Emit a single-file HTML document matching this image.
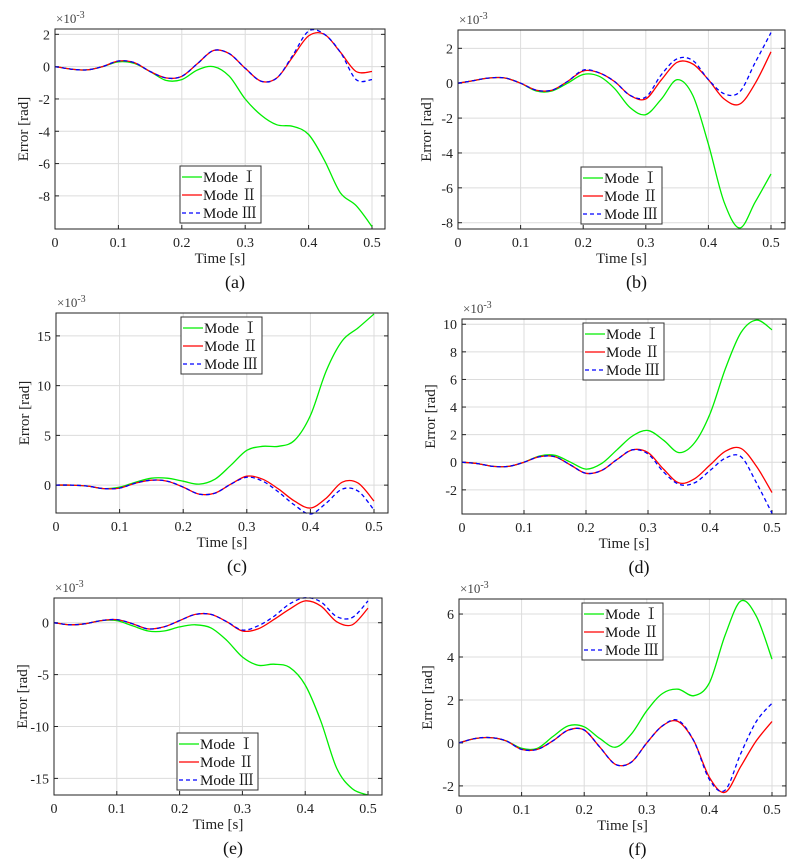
<!DOCTYPE html>
<html><head><meta charset="utf-8"><style>
body{margin:0;background:#fff;}
svg{display:block;}
svg text{font-family:"Liberation Serif","Noto Serif CJK SC",serif;}
</style></head><body>
<svg id="fig" width="806" height="865" viewBox="0 0 806 865" font-family="Liberation Serif, serif" xmlns="http://www.w3.org/2000/svg"></svg>
<script>
const times=[0,.025,.05,.075,.1,.125,.15,.175,.2,.225,.25,.275,.3,.325,.35,.375,.4,.425,.45,.475,.5];
const aI=[0,-.15,-.2,0,.3,.2,-.3,-.85,-.8,-.2,0,-.6,-2.0,-3.0,-3.6,-3.7,-4.2,-5.8,-7.8,-8.6,-9.9];
const aII=[0,-.15,-.2,0,.35,.25,-.3,-.7,-.6,.2,1.0,.8,-.1,-.9,-.7,.6,1.9,2.0,.9,-.3,-.3];
const aIII=[0,-.15,-.2,0,.35,.25,-.3,-.7,-.6,.2,1.0,.8,-.1,-.9,-.7,.7,2.2,2.0,.9,-.8,-.8];
const bI=[0,.15,.3,.3,0,-.45,-.45,0,.5,.4,-.3,-1.4,-1.8,-.9,.2,-.7,-3.5,-6.8,-8.3,-6.8,-5.2];
const bII=[0,.15,.3,.3,0,-.4,-.4,.1,.7,.6,.1,-.7,-.9,.2,1.2,1.1,.2,-.9,-1.2,0,1.8];
const bIII=[0,.15,.3,.3,0,-.4,-.4,.1,.75,.6,.1,-.7,-.8,.5,1.4,1.3,.2,-.6,-.5,1.2,2.9];
const cI=[0,0,-.1,-.35,-.2,.3,.7,.7,.4,.1,.6,2.0,3.5,3.9,3.9,4.5,7.0,11.5,14.5,15.8,17.2];
const cII=[0,0,-.1,-.35,-.3,.2,.5,.4,-.2,-.9,-.8,.1,.9,.6,-.4,-1.6,-2.3,-1.3,.3,.2,-1.6];
const cIII=[0,0,-.1,-.35,-.3,.2,.5,.4,-.2,-.9,-.8,.1,.8,.4,-.7,-2.0,-2.9,-1.8,-.4,-.6,-2.5];
const dI=[0,-.1,-.3,-.3,0,.45,.5,0,-.5,-.1,.9,1.9,2.3,1.6,.7,1.4,3.5,6.8,9.4,10.3,9.6];
const dII=[0,-.1,-.3,-.3,0,.4,.4,-.2,-.8,-.6,.2,.9,.7,-.5,-1.5,-1.2,-.2,.8,1.0,-.3,-2.2];
const dIII=[0,-.1,-.3,-.3,0,.4,.4,-.2,-.8,-.6,.2,.9,.6,-.7,-1.6,-1.5,-.6,.3,.4,-1.5,-3.7];
const eI=[0,-.2,-.1,.2,.2,-.3,-.8,-.8,-.4,-.2,-.5,-1.7,-3.3,-4.1,-4.0,-4.3,-6.0,-9.5,-14.0,-16.0,-16.6];
const eII=[0,-.2,-.1,.2,.3,-.1,-.6,-.4,.2,.8,.8,.1,-.8,-.6,.3,1.3,2.1,1.6,.1,-.2,1.4];
const eIII=[0,-.2,-.1,.2,.3,-.1,-.6,-.4,.2,.8,.8,.1,-.7,-.3,.6,1.8,2.4,2.0,.6,.5,2.1];
const fI=[0,.2,.25,.1,-.25,-.25,.3,.8,.75,.2,-.2,.4,1.5,2.3,2.5,2.2,2.8,5.0,6.6,5.9,3.9];
const fII=[0,.2,.25,.1,-.3,-.3,.1,.6,.6,-.2,-1.0,-.9,0,.8,1.0,.1,-1.6,-2.3,-1.1,.1,1.0];
const fIII=[0,.2,.25,.1,-.3,-.3,.1,.6,.6,-.2,-1.0,-.9,0,.8,1.05,.1,-1.7,-2.2,-.5,1.0,1.85];
const xTicks=[0,.1,.2,.3,.4,.5];
const xTickLabels=["0","0.1","0.2","0.3","0.4","0.5"];
const yTicksA=[2,0,-2,-4,-6,-8], yTicksB=[2,0,-2,-4,-6,-8], yTicksC=[15,10,5,0];
const yTicksD=[10,8,6,4,2,0,-2], yTicksE=[0,-5,-10,-15], yTicksF=[6,4,2,0,-2];

const panels=[
 {id:'a',x0:55,x1:385,y0:29,y1:229,xa:55,xb:372,ymin:-10.05,ymax:2.33,ticks:yTicksA,s:[aI,aII,aIII],leg:[180,166]},
 {id:'b',x0:458,x1:785,y0:30,y1:229,xa:458,xb:771,ymin:-8.36,ymax:3.05,ticks:yTicksB,s:[bI,bII,bIII],leg:[581,167]},
 {id:'c',x0:56,x1:388,y0:313,y1:513,xa:56,xb:374,ymin:-2.8,ymax:17.3,ticks:yTicksC,s:[cI,cII,cIII],leg:[181,317]},
 {id:'d',x0:462,x1:786,y0:319,y1:514,xa:462,xb:772,ymin:-3.75,ymax:10.38,ticks:yTicksD,s:[dI,dII,dIII],leg:[583,323]},
 {id:'e',x0:54,x1:382,y0:598,y1:795,xa:54,xb:368,ymin:-16.6,ymax:2.38,ticks:yTicksE,s:[eI,eII,eIII],leg:[177,733]},
 {id:'f',x0:459,x1:786,y0:599,y1:796,xa:459,xb:772,ymin:-2.47,ymax:6.7,ticks:yTicksF,s:[fI,fII,fIII],leg:[582,603]}
];
const NS='http://www.w3.org/2000/svg';
const svg=document.getElementById('fig');
function mk(tag,attrs,parent,text){const e=document.createElementNS(NS,tag);for(const k in attrs)e.setAttribute(k,attrs[k]);if(text!==undefined)e.textContent=text;(parent||svg).appendChild(e);return e;}
const colors=['#00ee00','#ff0000','#0000ff'];
const names=['Mode Ⅰ','Mode Ⅱ','Mode Ⅲ'];
function smoothPath(pts){let d='M'+pts[0][0].toFixed(1)+','+pts[0][1].toFixed(1);
 for(let i=0;i<pts.length-1;i++){const p0=pts[Math.max(0,i-1)],p1=pts[i],p2=pts[i+1],p3=pts[Math.min(pts.length-1,i+2)];
 const c1=[p1[0]+(p2[0]-p0[0])/6,p1[1]+(p2[1]-p0[1])/6],c2=[p2[0]-(p3[0]-p1[0])/6,p2[1]-(p3[1]-p1[1])/6];
 d+=' C'+c1[0].toFixed(1)+','+c1[1].toFixed(1)+' '+c2[0].toFixed(1)+','+c2[1].toFixed(1)+' '+p2[0].toFixed(1)+','+p2[1].toFixed(1);}
 return d;}
panels.forEach(p=>{
 const g=mk('g',{});
 
 
 const X=t=>p.xa+(p.xb-p.xa)*t/0.5;
 const Y=v=>p.y1-(v-p.ymin)/(p.ymax-p.ymin)*(p.y1-p.y0);
 xTicks.forEach((t,i)=>{
  const gl=mk('line',{x1:X(t),x2:X(t),y1:p.y0,y2:p.y1,stroke:'#dcdcdc','stroke-width':1},g);
  
  
  mk('line',{x1:X(t),x2:X(t),y1:p.y1,y2:p.y1-4,stroke:'#222'},g);
  const tl=mk('text',{x:X(t),y:p.y1+18,'text-anchor':'middle','font-size':14,fill:'#222'},g,xTickLabels[i]);
  
  
 });
 p.ticks.forEach(v=>{
  const gl=mk('line',{x1:p.x0,x2:p.x1,y1:Y(v),y2:Y(v),stroke:'#dcdcdc','stroke-width':1},g);
  
  
  mk('line',{x1:p.x0,x2:p.x0+4,y1:Y(v),y2:Y(v),stroke:'#222'},g);
  mk('line',{x1:p.x1,x2:p.x1-4,y1:Y(v),y2:Y(v),stroke:'#222'},g);
  const tl=mk('text',{x:p.x0-5,y:Y(v)+5,'text-anchor':'end','font-size':14,fill:'#222'},g,String(v));
  
  
 });
 [0,1,2].forEach(k=>{
  const pts=times.map((t,i)=>[X(t),Y(p.s[k][i])]);
  const a={d:smoothPath(pts),fill:'none',stroke:colors[k],'stroke-width':1.3};
  if(k===2)a['stroke-dasharray']='4,3';
  const path=mk('path',a,g);
  
  
 });
 const box=mk('rect',{x:p.x0,y:p.y0,width:p.x1-p.x0,height:p.y1-p.y0,fill:'none',stroke:'#222','stroke-width':1},g);
 
 
 const ex=mk('text',{x:p.x0+1,y:p.y0-6,'font-size':13,fill:'#444'},g);
 
 
 ex.innerHTML='×10<tspan dy="-5" font-size="10">-3</tspan>';
 const xl=mk('text',{x:(p.x0+p.x1)/2,y:p.y1+34,'text-anchor':'middle','font-size':15,fill:'#222'},g,'Time [s]');
 
 
 const yc=(p.y0+p.y1)/2,yx=p.x0-27;
 const yl=mk('text',{x:yx,y:yc,'text-anchor':'middle','font-size':15,fill:'#222',transform:'rotate(-90 '+yx+' '+yc+')'},g,'Error [rad]');
 
 
 const cap=mk('text',{x:(p.x0+p.x1)/2+15,y:p.y1+59,'text-anchor':'middle','font-size':18,fill:'#111'},g,'('+p.id+')');
 
 
 const lg=mk('g',{},g);
 
 
 const lx=p.leg[0],ly=p.leg[1];
 mk('rect',{x:lx,y:ly,width:81,height:57,fill:'#fff',stroke:'#333','stroke-width':1},lg);
 [0,1,2].forEach(k=>{
  const yy=ly+11+k*18;
  const la={x1:lx+2,x2:lx+22,y1:yy,y2:yy,stroke:colors[k],'stroke-width':1.3};
  if(k===2)la['stroke-dasharray']='4,3';
  const ln=mk('line',la,lg);
  
  
  const tx=mk('text',{x:lx+23,y:yy+5,'font-size':15,fill:'#111'},lg,names[k]);
  
  
 });
});
</script>
</body></html>
